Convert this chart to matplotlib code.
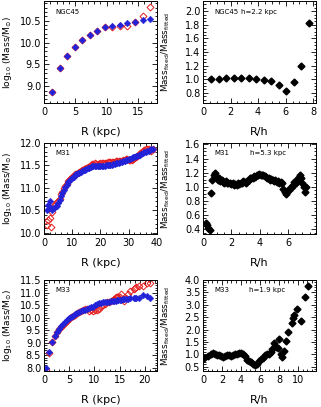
import numpy as np
import matplotlib
matplotlib.use('Agg')
import matplotlib.pyplot as plt
from matplotlib.ticker import MultipleLocator, FormatStrFormatter

plt.rcParams['font.family'] = 'DejaVu Sans'
plt.rcParams['mathtext.default'] = 'regular'

# NGC45: radius (kpc), fitted log mass, fixed/fitted mass ratio
ngc45_h = 2.2
ngc45_r = [1.3, 2.5, 3.7, 4.9, 6.1, 7.3, 8.5, 9.7, 10.9, 12.1, 13.3, 14.5, 15.7, 16.9]
ngc45_logm = [8.87, 9.41, 9.69, 9.90, 10.05, 10.17, 10.27, 10.35, 10.38, 10.41,
              10.45, 10.48, 10.52, 10.55]
ngc45_ratio = [1.01, 1.01, 1.02, 1.02, 1.02, 1.02, 1.01, 0.99, 0.97, 0.91,
               0.83, 0.96, 1.20, 1.83]

# M31
m31_h = 5.3
m31_r = [1.0, 1.5, 2.0, 2.5, 3.0, 3.5, 4.0, 4.5, 5.0, 5.5, 6.0, 6.5, 7.0, 7.5,
         8.0, 8.5, 9.0, 9.5, 10.0, 10.5, 11.0, 11.5, 12.0, 12.5, 13.0, 13.5,
         14.0, 14.5, 15.0, 15.5, 16.0, 16.5, 17.0, 17.5, 18.0, 18.5, 19.0, 19.5,
         20.0, 20.5, 21.0, 21.5, 22.0, 22.5, 23.0, 23.5, 24.0, 24.5, 25.0, 25.5,
         26.0, 26.5, 27.0, 27.5, 28.0, 28.5, 29.0, 29.5, 30.0, 30.5, 31.0, 31.5,
         32.0, 32.5, 33.0, 33.5, 34.0, 34.5, 35.0, 35.5, 36.0, 36.5, 37.0, 37.5,
         38.0, 38.5]
m31_logm = [10.50, 10.62, 10.70, 10.55, 10.50, 10.56, 10.58, 10.60, 10.66, 10.72,
            10.82, 10.88, 10.96, 11.02, 11.07, 11.12, 11.16, 11.19, 11.22, 11.25,
            11.28, 11.30, 11.32, 11.34, 11.36, 11.37, 11.39, 11.40, 11.42, 11.44,
            11.45, 11.47, 11.48, 11.49, 11.49, 11.48, 11.48, 11.48, 11.48, 11.48,
            11.49, 11.49, 11.50, 11.50, 11.51, 11.52, 11.52, 11.53, 11.54, 11.55,
            11.55, 11.56, 11.57, 11.58, 11.59, 11.60, 11.61, 11.62, 11.64, 11.65,
            11.67, 11.68, 11.69, 11.70, 11.71, 11.73, 11.74, 11.76, 11.77, 11.79,
            11.80, 11.82, 11.83, 11.84, 11.86, 11.87]
m31_ratio = [0.48, 0.46, 0.42, 0.38, 0.91, 1.10, 1.16, 1.20, 1.14, 1.10,
             1.12, 1.08, 1.10, 1.07, 1.06, 1.08, 1.06, 1.05, 1.06, 1.04,
             1.05, 1.03, 1.04, 1.03, 1.05, 1.04, 1.06, 1.05, 1.08, 1.07,
             1.06, 1.08, 1.10, 1.12, 1.13, 1.12, 1.15, 1.14, 1.16, 1.17,
             1.18, 1.17, 1.16, 1.17, 1.15, 1.14, 1.12, 1.13, 1.10, 1.11,
             1.09, 1.08, 1.09, 1.07, 1.08, 1.06, 1.07, 1.05, 0.97, 0.93,
             0.90, 0.92, 0.95, 0.98, 1.00, 1.03, 1.07, 1.05, 1.10, 1.12,
             1.16, 1.12, 1.06, 1.00, 0.93, 1.00]

# M33
m33_h = 1.9
m33_r = [0.3, 1.0, 1.6, 2.1, 2.5, 2.9, 3.3, 3.7, 4.1, 4.5, 4.9, 5.3, 5.7, 6.1,
         6.5, 6.9, 7.3, 7.7, 8.1, 8.5, 8.9, 9.3, 9.7, 10.1, 10.5, 10.9, 11.3,
         11.7, 12.1, 12.5, 12.9, 13.3, 13.6, 13.9, 14.2, 14.4, 14.7, 15.0, 15.2,
         15.6, 15.8, 16.2, 16.7, 17.1, 17.8, 18.1, 18.3, 18.8, 19.6, 20.5, 21.1]
m33_logm = [8.00, 8.62, 9.05, 9.27, 9.42, 9.55, 9.66, 9.75, 9.83, 9.90, 9.97,
            10.03, 10.08, 10.13, 10.17, 10.21, 10.25, 10.29, 10.32, 10.36, 10.39,
            10.42, 10.44, 10.52, 10.56, 10.58, 10.60, 10.61, 10.62, 10.63, 10.64,
            10.65, 10.66, 10.67, 10.68, 10.69, 10.70, 10.71, 10.72, 10.73, 10.74,
            10.75, 10.76, 10.77, 10.78, 10.78, 10.79, 10.80, 10.91, 10.85, 10.80]
m33_ratio = [0.85, 0.92, 1.00, 1.05, 1.02, 0.99, 0.96, 0.92, 0.90, 0.94, 0.96,
             0.97, 0.95, 0.97, 1.00, 1.02, 1.05, 1.07, 1.03, 0.95, 0.78, 0.74,
             0.70, 0.62, 0.56, 0.60, 0.72, 0.80, 0.85, 0.97, 1.00, 1.02, 1.10,
             1.22, 1.45, 1.35, 1.30, 1.25, 1.62, 1.00, 0.88, 1.12, 1.55, 1.90,
             2.25, 2.45, 2.60, 2.85, 2.35, 3.30, 3.75]

BLUE = '#2222d8'
RED = '#e41c1c'


def setup(ax, xlim, ylim, xmaj, xmin, ymaj, ymin):
    ax.set_xlim(*xlim)
    ax.set_ylim(*ylim)
    ax.xaxis.set_major_locator(MultipleLocator(xmaj))
    ax.xaxis.set_minor_locator(MultipleLocator(xmin))
    ax.yaxis.set_major_locator(MultipleLocator(ymaj))
    ax.yaxis.set_minor_locator(MultipleLocator(ymin))
    ax.xaxis.set_major_formatter(FormatStrFormatter('%d'))
    ax.yaxis.set_major_formatter(FormatStrFormatter('%.1f'))
    ax.tick_params(which='both', direction='in', top=True, right=True,
                   labelsize=7, width=0.6)
    ax.tick_params(which='major', length=3.5, pad=3)
    ax.tick_params(which='minor', length=1.8)
    ax.tick_params(axis='y', pad=2)
    for sp in ax.spines.values():
        sp.set_linewidth(0.7)


def mass_panel(ax, r, logm, ratio, name, xlim, ylim, xmaj, xmin, ymaj, ymin):
    logm = np.asarray(logm)
    fixed = logm + np.log10(ratio)
    ax.plot(r, fixed, 'D', ms=3.5, mfc='none', mec=RED, mew=0.7)
    ax.plot(r, logm, 'D', ms=3.4, color=BLUE, mec=BLUE, mew=0.3)
    setup(ax, xlim, ylim, xmaj, xmin, ymaj, ymin)
    ax.text(0.1, 0.89, name, transform=ax.transAxes, fontsize=5, va='center')
    ax.set_xlabel('R (kpc)', fontsize=8)
    ax.set_ylabel(r'log$_{10}$ (Mass/M$_{\odot}$)', fontsize=6.6)
    ax.yaxis.set_label_coords(-0.265, 0.5)


def ratio_panel(ax, r, h, ratio, name, xlim, ylim, xmaj, xmin, ymaj, ymin, hx):
    ax.plot(np.asarray(r) / h, ratio, 'D', ms=3.5, color='black')
    setup(ax, xlim, ylim, xmaj, xmin, ymaj, ymin)
    ax.text(0.1, 0.89, name, transform=ax.transAxes, fontsize=5, va='center')
    ax.text(hx, 0.89, 'h=%.1f kpc' % h, transform=ax.transAxes, fontsize=5,
            va='center')
    ax.set_xlabel('R/h', fontsize=8)
    ax.set_ylabel(r'Mass$_{fixed}$/Mass$_{fitted}$', fontsize=6.3)
    ax.yaxis.set_label_coords(-0.27, 0.5)


fig = plt.figure(figsize=(3.21, 4.07), dpi=100)
W, H = 321.0, 407.0
left_x, right_x, aw = 44 / W, 203 / W, 113 / W
ax1 = fig.add_axes([left_x, (H - 103) / H, aw, 102 / H])
ax2 = fig.add_axes([right_x, (H - 103) / H, aw, 102 / H])
ax3 = fig.add_axes([left_x, (H - 234) / H, aw, 91 / H])
ax4 = fig.add_axes([right_x, (H - 234) / H, aw, 91 / H])
ax5 = fig.add_axes([left_x, (H - 371) / H, aw, 91 / H])
ax6 = fig.add_axes([right_x, (H - 371) / H, aw, 91 / H])

mass_panel(ax1, ngc45_r, ngc45_logm, ngc45_ratio, 'NGC45',
           (0, 18), (8.62, 10.95), 5, 1, 0.5, 0.1)
ratio_panel(ax2, ngc45_r, ngc45_h, ngc45_ratio, 'NGC45',
            (0, 8.2), (0.65, 2.15), 2, 0.5, 0.2, 0.05, 0.34)
ax1.xaxis.set_label_coords(0.5, -0.235)
ax2.xaxis.set_label_coords(0.5, -0.235)

mass_panel(ax3, m31_r, m31_logm, m31_ratio, 'M31',
           (0, 40), (9.97, 12.0), 10, 2, 0.5, 0.1)
ratio_panel(ax4, m31_r, m31_h, m31_ratio, 'M31',
            (0, 7.95), (0.33, 1.62), 2, 0.5, 0.2, 0.05, 0.42)

mass_panel(ax5, m33_r, m33_logm, m33_ratio, 'M33',
           (0, 22.4), (7.88, 11.5), 5, 1, 0.5, 0.1)
ratio_panel(ax6, m33_r, m33_h, m33_ratio, 'M33',
            (0, 11.9), (0.33, 4.0), 2, 0.5, 0.5, 0.1, 0.41)
for ax in (ax3, ax4, ax5, ax6):
    ax.xaxis.set_label_coords(0.5, -0.264)

fig.savefig('out.png', dpi=100)
